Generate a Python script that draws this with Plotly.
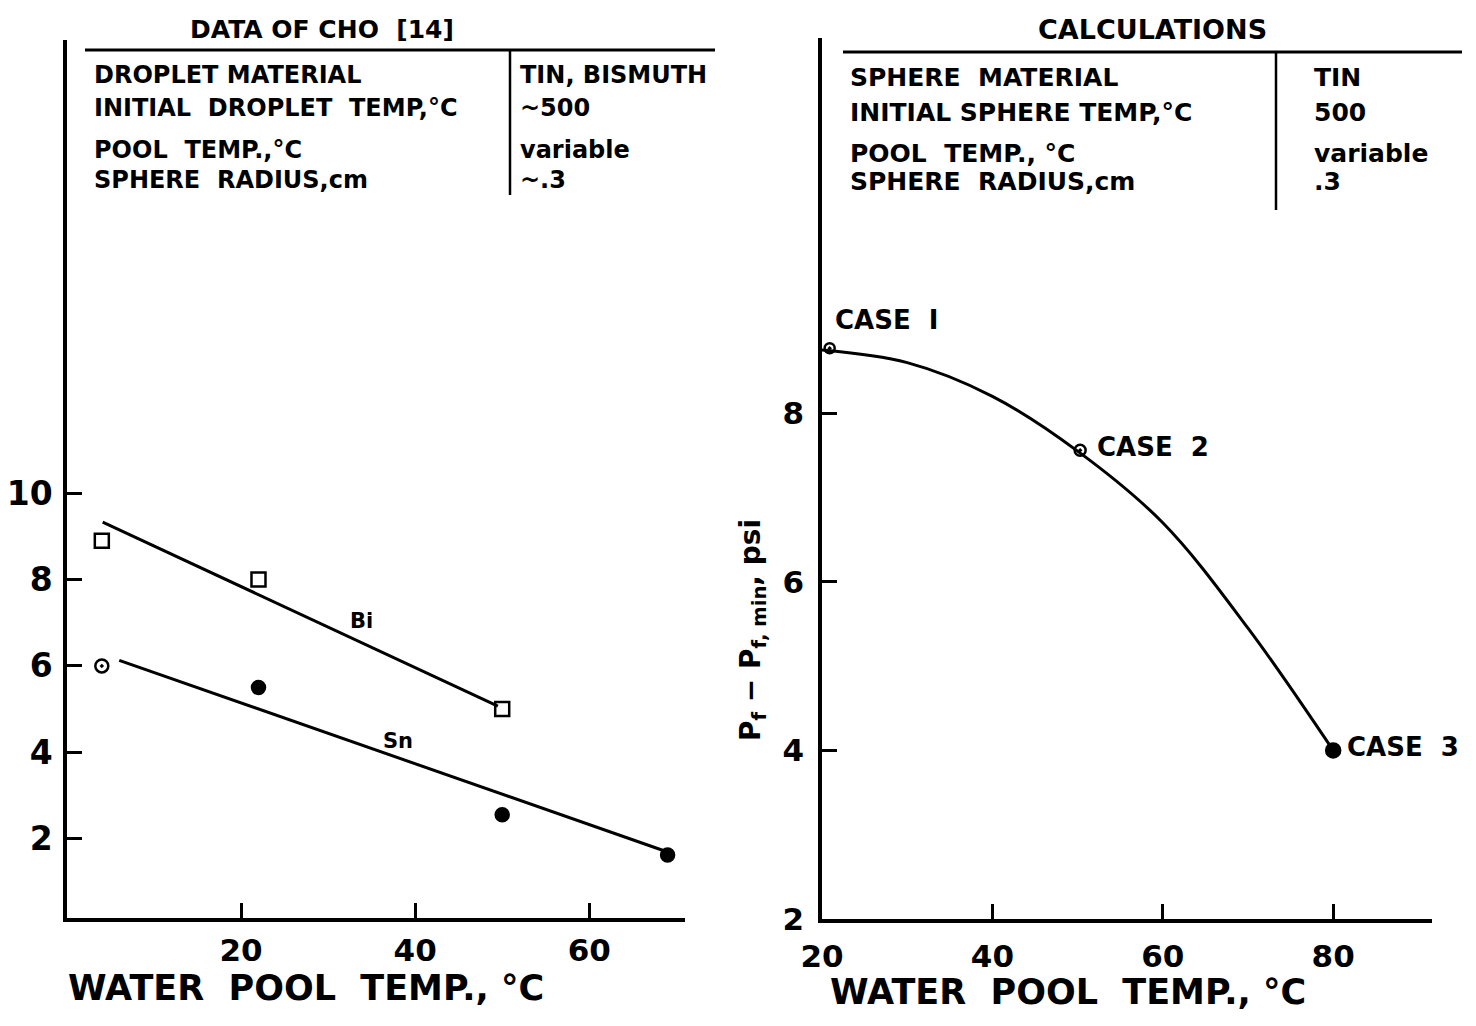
import plotly.graph_objects as go

# ---------------- data ----------------
bi_x = [4, 22, 50]
bi_y = [8.9, 8.0, 5.0]
bi_fit_x = [4.1, 49.5]
bi_fit_y = [9.33, 5.07]

sn_x = [4, 22, 50, 69]
sn_y = [6.0, 5.5, 2.55, 1.62]
sn_symbols = ["circle-open-dot", "circle", "circle", "circle"]
sn_fit_x = [6.0, 69.0]
sn_fit_y = [6.13, 1.69]

curve_x = [20, 30, 40, 50, 60, 70, 80]
curve_y = [8.75, 8.6, 8.2, 7.55, 6.7, 5.45, 4.0]

case_x = [20.9, 50.3, 80]
case_y = [8.77, 7.56, 4.0]
case_labels = ["CASE  I", "CASE  2", "CASE  3"]
case_symbols = ["circle-open-dot", "circle-open-dot", "circle"]
case_sizes = [10, 11, 14]

left_xticks = [20, 40, 60]
left_yticks = [2, 4, 6, 8, 10]
right_xticks = [20, 40, 60, 80]
right_yticks = [2, 4, 6, 8]

left_rows = ["DROPLET MATERIAL", "INITIAL  DROPLET  TEMP,°C", "POOL  TEMP.,°C", "SPHERE  RADIUS,cm"]
left_vals = ["TIN, BISMUTH", "~500", "variable", "~.3"]
right_rows = ["SPHERE  MATERIAL", "INITIAL SPHERE TEMP,°C", "POOL  TEMP., °C", "SPHERE  RADIUS,cm"]
right_vals = ["TIN", "500", "variable", ".3"]

W, H = 1476, 1026
FONT = "DejaVu Sans"


def px(x):
    return x / W


def py(y):
    return 1 - y / H


fig = go.Figure()

# left panel
fig.add_trace(go.Scatter(x=bi_fit_x, y=bi_fit_y, mode="lines", line=dict(color="black", width=3),
                         xaxis="x", yaxis="y", showlegend=False))
fig.add_trace(go.Scatter(x=sn_fit_x, y=sn_fit_y, mode="lines", line=dict(color="black", width=3),
                         xaxis="x", yaxis="y", showlegend=False))
fig.add_trace(go.Scatter(x=bi_x, y=bi_y, mode="markers",
                         marker=dict(symbol="square-open", size=14, color="black", opacity=1, line=dict(width=2.5)),
                         xaxis="x", yaxis="y", showlegend=False))
fig.add_trace(go.Scatter(x=sn_x, y=sn_y, mode="markers",
                         marker=dict(symbol=sn_symbols, size=13, color="black", opacity=1,
                                     line=dict(width=2.5, color="black")),
                         xaxis="x", yaxis="y", showlegend=False))

# right panel
fig.add_trace(go.Scatter(x=curve_x, y=curve_y, mode="lines", line=dict(color="black", width=3, shape="spline"),
                         xaxis="x2", yaxis="y2", showlegend=False))
fig.add_trace(go.Scatter(x=case_x, y=case_y, mode="markers",
                         marker=dict(symbol=case_symbols, size=case_sizes, color="black", opacity=1,
                                     line=dict(width=2.5, color="black")),
                         xaxis="x2", yaxis="y2", showlegend=False))

axis_common = dict(showline=True, linecolor="black", linewidth=3.5, mirror=False, showgrid=False, zeroline=False,
                   ticks="inside", ticklen=15, tickwidth=3, tickcolor="black", automargin=False)
tick_font = dict(family=FONT, size=31, color="black", weight="bold")

fig.update_layout(
    width=W, height=H, margin=dict(l=0, r=0, t=0, b=0, autoexpand=False),
    paper_bgcolor="white", plot_bgcolor="white",
    xaxis=dict(domain=[px(67), px(685)], range=[0, 71], tickvals=left_xticks, anchor="y",
               ticklabelstandoff=2, tickfont=tick_font, **axis_common),
    yaxis=dict(domain=[py(918), py(40)], range=[0.16, 20.5], tickvals=left_yticks, anchor="x",
               ticklabelstandoff=4, tickfont=dict(family=FONT, size=33, color="black", weight="bold"),
               **axis_common),
    xaxis2=dict(domain=[px(822), px(1432)], range=[20, 91.6], tickvals=right_xticks, anchor="y2",
                ticklabelstandoff=7, tickfont=tick_font, **axis_common),
    yaxis2=dict(domain=[py(919), py(38)], range=[2, 12.45], tickvals=right_yticks, anchor="x2",
                ticklabelstandoff=8, tickfont=tick_font, **axis_common),
)

ann = []
# series labels
ann.append(dict(x=33.8, y=7.03, xref="x", yref="y", text="Bi", showarrow=False,
                font=dict(family=FONT, size=21, color="black", weight="bold")))
ann.append(dict(x=38, y=4.25, xref="x", yref="y", text="Sn", showarrow=False,
                font=dict(family=FONT, size=21, color="black", weight="bold")))
for cx, cy, lab, dx in zip(case_x, case_y, case_labels, [0.4, 1.8, 1.4]):
    yo = 0.33 if lab.endswith("I") else 0.04
    ann.append(dict(x=cx + dx, y=cy + yo, xref="x2", yref="y2", text=lab, showarrow=False,
                    xanchor="left", yanchor="middle",
                    font=dict(family=FONT, size=26, color="black", weight="bold")))

# axis titles
for xl, yl in [(66, 988), (828, 992)]:
    ann.append(dict(x=px(xl), y=py(yl), xref="paper", yref="paper", text="WATER  POOL  TEMP., °C",
                    showarrow=False, xanchor="left", yanchor="middle",
                    font=dict(family=FONT, size=35, color="black", weight="bold")))
ann.append(dict(x=px(752), y=py(630), xref="paper", yref="paper", textangle=-90,
                xanchor="center", yanchor="middle",
                text="P<sub>f</sub> − P<sub>f, min</sub>, psi", showarrow=False,
                font=dict(family=FONT, size=28, color="black", weight="bold")))

# headers
ann.append(dict(x=px(322), y=py(30), xref="paper", yref="paper", text="DATA OF CHO  [14]", showarrow=False,
                xanchor="center", yanchor="middle",
                font=dict(family=FONT, size=25, color="black", weight="bold")))
ann.append(dict(x=px(1152), y=py(30), xref="paper", yref="paper", text="CALCULATIONS", showarrow=False,
                xanchor="center", yanchor="middle",
                font=dict(family=FONT, size=27, color="black", weight="bold")))

# tables
for rows, vals, xl, xv, ys, fs in [
    (left_rows, left_vals, 92, 518, [75, 108, 150, 180], 24),
    (right_rows, right_vals, 848, 1312, [77, 112, 153, 182], 25),
]:
    for r, v, yy in zip(rows, vals, ys):
        ann.append(dict(x=px(xl), y=py(yy), xref="paper", yref="paper", text=r, showarrow=False,
                        xanchor="left", yanchor="middle",
                        font=dict(family=FONT, size=fs, color="black", weight="bold")))
        ann.append(dict(x=px(xv), y=py(yy), xref="paper", yref="paper", text=v, showarrow=False,
                        xanchor="left", yanchor="middle",
                        font=dict(family=FONT, size=fs, color="black", weight="bold")))

fig.update_layout(annotations=ann)

shapes = [
    dict(type="line", xref="paper", yref="paper", x0=px(85), x1=px(715), y0=py(50), y1=py(50),
         line=dict(color="black", width=3)),
    dict(type="line", xref="paper", yref="paper", x0=px(510), x1=px(510), y0=py(50), y1=py(195),
         line=dict(color="black", width=2.5)),
    dict(type="line", xref="paper", yref="paper", x0=px(843), x1=px(1462), y0=py(52), y1=py(52),
         line=dict(color="black", width=3)),
    dict(type="line", xref="paper", yref="paper", x0=px(1276), x1=px(1276), y0=py(52), y1=py(210),
         line=dict(color="black", width=2.5)),
]
fig.update_layout(shapes=shapes)

fig.write_html("out.html")
